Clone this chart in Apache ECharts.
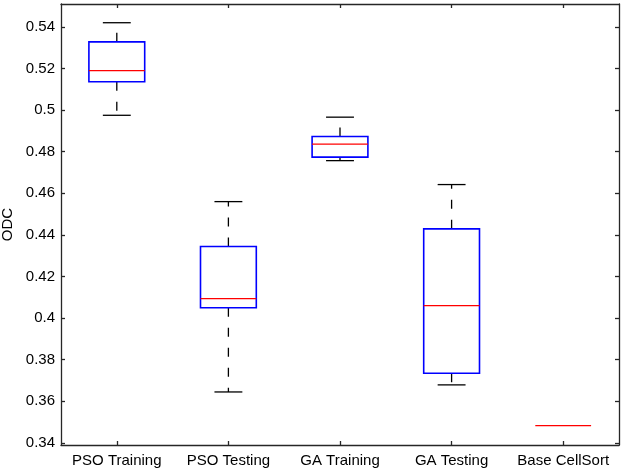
<!DOCTYPE html>
<html>
<head>
<meta charset="utf-8">
<script src="https://cdn.jsdelivr.net/npm/echarts@6/dist/echarts.min.js"></script>
<style>
html,body{margin:0;padding:0;background:#fff;}
#c{width:624px;height:474px;}
</style>
</head>
<body>
<div id="c"></div>
<script>
var categories = ['PSO Training', 'PSO Testing', 'GA Training', 'GA Testing', 'Base CellSort'];
var lowerWhisker = [0.4975, 0.3645, 0.4757, 0.3679, 0.3483];
var q1Values     = [0.5136, 0.4050, 0.4774, 0.3735, 0.3483];
var medianValues = [0.5190, 0.4094, 0.4836, 0.4060, 0.3483];
var q3Values     = [0.5328, 0.4344, 0.4873, 0.4429, 0.3483];
var upperWhisker = [0.5420, 0.4560, 0.4966, 0.4642, 0.3483];
var yTicks = [0.34, 0.36, 0.38, 0.4, 0.42, 0.44, 0.46, 0.48, 0.5, 0.52, 0.54];

var boxData = categories.map(function (c, i) {
  return [i, lowerWhisker[i], q1Values[i], medianValues[i], q3Values[i], upperWhisker[i]];
});

var FONT = 'Liberation Sans';
var AXIS_COLOR = '#262626';

function renderBox(params, api) {
  var idx = api.value(0);
  var band = api.size([1, 0])[0];
  var boxW = band * 0.5;
  var capW = band * 0.25;
  var pMin = api.coord([idx, api.value(1)]);
  var pQ1 = api.coord([idx, api.value(2)]);
  var pMed = api.coord([idx, api.value(3)]);
  var pQ3 = api.coord([idx, api.value(4)]);
  var pMax = api.coord([idx, api.value(5)]);
  var x = pMed[0];
  var whiskerStyle = {stroke: '#000', lineWidth: 1.3, lineDash: [9, 11]};
  var capStyle = {stroke: '#000', lineWidth: 1.3};
  var children = [];
  if (pMax[1] < pQ3[1]) {
    children.push({type: 'line', shape: {x1: x, y1: pQ3[1], x2: x, y2: pMax[1]}, style: whiskerStyle});
    children.push({type: 'line', shape: {x1: x - capW / 2, y1: pMax[1], x2: x + capW / 2, y2: pMax[1]}, style: capStyle});
  }
  if (pMin[1] > pQ1[1]) {
    children.push({type: 'line', shape: {x1: x, y1: pQ1[1], x2: x, y2: pMin[1]}, style: whiskerStyle});
    children.push({type: 'line', shape: {x1: x - capW / 2, y1: pMin[1], x2: x + capW / 2, y2: pMin[1]}, style: capStyle});
  }
  if (pQ1[1] > pQ3[1]) {
    children.push({type: 'rect', shape: {x: x - boxW / 2, y: pQ3[1], width: boxW, height: pQ1[1] - pQ3[1]},
      style: {stroke: '#0000ff', lineWidth: 1.6, fill: 'none'}});
  }
  children.push({type: 'line', shape: {x1: x - boxW / 2, y1: pMed[1], x2: x + boxW / 2, y2: pMed[1]},
    style: {stroke: '#ff0000', lineWidth: 1.2}});
  return {type: 'group', children: children};
}

var chart = echarts.init(document.getElementById('c'), null, {renderer: 'canvas'});
chart.setOption({
  animation: false,
  backgroundColor: '#fff',
  grid: {left: 61, right: 5, top: 4, bottom: 29, containLabel: false, outerBoundsMode: 'none'},
  xAxis: [{
    type: 'category',
    data: categories,
    position: 'bottom',
    boundaryGap: true,
    axisLine: {show: true, onZero: false, lineStyle: {color: AXIS_COLOR, width: 1.3}},
    axisTick: {show: true, inside: true, alignWithLabel: true, interval: 0, length: 4, lineStyle: {color: AXIS_COLOR, width: 1.3}},
    axisLabel: {color: '#000', fontFamily: FONT, fontSize: 15, margin: 8, interval: 0},
    splitLine: {show: false}
  }, {
    type: 'category',
    data: categories,
    position: 'top',
    boundaryGap: true,
    axisLine: {show: true, onZero: false, lineStyle: {color: AXIS_COLOR, width: 1.3}},
    axisTick: {show: true, inside: true, alignWithLabel: true, interval: 0, length: 4, lineStyle: {color: AXIS_COLOR, width: 1.3}},
    axisLabel: {show: false},
    splitLine: {show: false}
  }],
  yAxis: [{
    type: 'value',
    min: 0.339,
    max: 0.551,
    position: 'left',
    name: 'ODC',
    nameLocation: 'middle',
    nameGap: 44,
    nameTextStyle: {color: '#000', fontFamily: FONT, fontSize: 15},
    axisLine: {show: true, onZero: false, lineStyle: {color: AXIS_COLOR, width: 1.3}},
    axisTick: {show: true, inside: true, length: 4, customValues: yTicks, lineStyle: {color: AXIS_COLOR, width: 1.3}},
    axisLabel: {color: '#000', fontFamily: FONT, fontSize: 15, margin: 6, customValues: yTicks,
      formatter: function (v) { return String(Math.round(v * 100) / 100); }},
    splitLine: {show: false}
  }, {
    type: 'value',
    min: 0.339,
    max: 0.551,
    position: 'right',
    axisLine: {show: true, onZero: false, lineStyle: {color: AXIS_COLOR, width: 1.3}},
    axisTick: {show: true, inside: true, length: 4, customValues: yTicks, lineStyle: {color: AXIS_COLOR, width: 1.3}},
    axisLabel: {show: false},
    splitLine: {show: false}
  }],
  series: [{
    type: 'custom',
    xAxisIndex: 0,
    yAxisIndex: 0,
    renderItem: renderBox,
    encode: {x: 0, y: [1, 2, 3, 4, 5]},
    data: boxData,
    clip: false
  }]
});
</script>
</body>
</html>
